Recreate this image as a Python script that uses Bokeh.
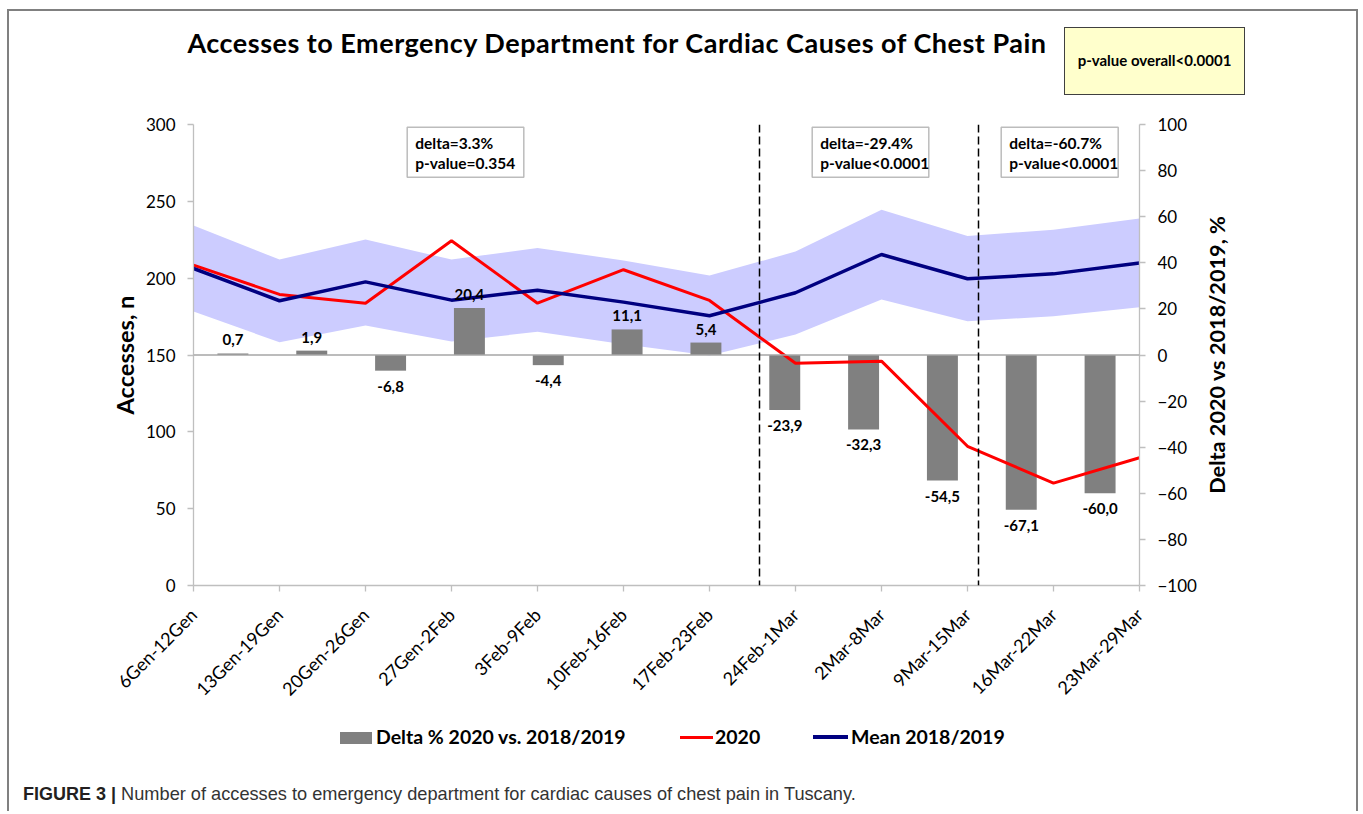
import math
import html
from bokeh.plotting import figure
from bokeh.models import (Range1d, LinearAxis, FixedTicker, Span, Label, LabelSet,
                          ColumnDataSource, BoxAnnotation, Div)
from bokeh.layouts import column, row
from bokeh.core.properties import value
from bokeh.embed import file_html
from bokeh.resources import INLINE

# ---------------- data ----------------
weeks = ["6Gen-12Gen", "13Gen-19Gen", "20Gen-26Gen", "27Gen-2Feb", "3Feb-9Feb",
         "10Feb-16Feb", "17Feb-23Feb", "24Feb-1Mar", "2Mar-8Mar", "9Mar-15Mar",
         "16Mar-22Mar", "23Mar-29Mar"]
delta_pct = [0.7, 1.9, -6.8, 20.4, -4.4, 11.1, 5.4, -23.9, -32.3, -54.5, -67.1, -60.0]
acc_2020 = [208.5, 189.4, 183.7, 224.3, 183.7, 205.5, 185.5, 144.6, 146.0, 90.6, 66.6, 83.1]
mean_1819 = [206.3, 185.3, 197.6, 185.7, 192.2, 184.4, 175.5, 190.5, 215.4, 199.6, 202.8, 209.8]
band_upper = [234.3, 212.1, 225.2, 212.1, 219.7, 211.5, 201.7, 217.3, 244.5, 227.5, 231.5, 238.8]
band_lower = [178.3, 158.3, 169.2, 158.8, 165.1, 157.0, 149.7, 163.3, 186.1, 172.0, 175.2, 181.1]
left_ticks = [0, 50, 100, 150, 200, 250, 300]
right_ticks = [-100, -80, -60, -40, -20, 0, 20, 40, 60, 80, 100]
period_boxes = [("delta=3.3%", "p-value=0.354"),
                ("delta=-29.4%", "p-value<0.0001"),
                ("delta=-60.7%", "p-value<0.0001")]
series_names = ["Delta % 2020 vs. 2018/2019", "2020", "Mean 2018/2019"]
left_title = "Accesses, n"
right_title = "Delta 2020 vs 2018/2019, %"
overall_text = "p-value overall<0.0001"
title_text = "Accesses to Emergency Department for Cardiac Causes of Chest Pain"
caption_bold = "FIGURE 3 |"
caption_text = "Number of accesses to emergency department for cardiac causes of chest pain in Tuscany."

n = len(weeks)
xs = list(range(n))
bar_x = [(i + 0.5) * (n - 1) / n for i in range(n)]
labels = [f"{v:.1f}".replace(".", ",") for v in delta_pct]

BAR_C, RED_C, NAVY_C = "#808080", "#FF0000", "#000080"

# ---------------- geometry (content coordinates) ----------------
OX, OY = 9, 11                      # content origin inside the outer frame
CW = 1347                           # content width
FIG_W = 1202 - OX                   # figure width (right title lives in a side div)
FL, FR, FT, FB = 193 - OX, 1139 - OX, 124 - OY, 585 - OY   # plot frame
TOP_H = 89
FIG_H = 700 - TOP_H
BOT_H = 100

def DX(cx):
    return (cx - FL) * (n - 1) / (FR - FL)

def DY(cy):
    return (FB - cy) * 300 / (FB - FT)

p = figure(width=FIG_W, height=FIG_H, output_backend="svg", toolbar_location=None,
           x_range=Range1d(0, n - 1), y_range=Range1d(0, 300),
           min_border_left=FL, min_border_right=FIG_W - FR,
           min_border_top=FT - TOP_H, min_border_bottom=TOP_H + FIG_H - FB, margin=0)
p.extra_y_ranges = {"delta": Range1d(-100, 100)}
p.xgrid.visible = False
p.ygrid.visible = False
p.outline_line_color = None
p.background_fill_color = "white"
p.border_fill_color = "white"

AXC = "#BFBFBF"

p.yaxis.ticker = FixedTicker(ticks=left_ticks)
p.yaxis.axis_label = left_title
p.xaxis.ticker = FixedTicker(ticks=xs)
p.xaxis.major_label_overrides = {i: w for i, w in enumerate(weeks)}
p.xaxis.major_label_orientation = math.pi / 4

ry = LinearAxis(y_range_name="delta", ticker=FixedTicker(ticks=right_ticks))
p.add_layout(ry, "right")

for ax in [p.xaxis[0], p.yaxis[0], ry]:
    ax.axis_line_color = AXC
    ax.axis_line_width = 1.3
    ax.major_tick_line_color = AXC
    ax.major_tick_line_width = 1.3
    ax.minor_tick_line_color = None
    ax.major_tick_in = 0
    ax.major_tick_out = 6
    ax.major_label_text_font = "Lato"
    ax.major_label_text_color = "#000000"
    ax.major_label_text_font_size = "17px"
    ax.major_label_standoff = 12
    ax.axis_label_text_font = "Lato"
    ax.axis_label_text_font_style = "bold"
    ax.axis_label_text_font_size = "23.5px"
    ax.axis_label_text_color = "#000000"
p.yaxis.axis_label_standoff = 4
p.xaxis.major_label_text_font_size = "18px"
p.xaxis.major_label_standoff = 20

# band
p.varea(x=xs, y1=band_lower, y2=band_upper, color="#CCCCFF")

# zero line of secondary axis
p.add_layout(Span(location=0, dimension="width", y_range_name="delta",
                  line_color="#A6A6A6", line_width=1.3))

# bars
p.vbar(x=bar_x, top=delta_pct, bottom=0, width=0.36, y_range_name="delta",
       fill_color=BAR_C, line_color=None)

# lines
p.line(xs, acc_2020, line_color=RED_C, line_width=3)
p.line(xs, mean_1819, line_color=NAVY_C, line_width=3.5)

# bar labels
pos = [i for i in range(n) if delta_pct[i] >= 0]
neg = [i for i in range(n) if delta_pct[i] < 0]
src_pos = ColumnDataSource(dict(x=[bar_x[i] for i in pos], y=[delta_pct[i] for i in pos],
                                t=[labels[i] for i in pos]))
src_neg = ColumnDataSource(dict(x=[bar_x[i] for i in neg], y=[delta_pct[i] for i in neg],
                                t=[labels[i] for i in neg]))
for src, base, off in [(src_pos, "bottom", 8), (src_neg, "top", -10)]:
    p.add_layout(LabelSet(x="x", y="y", text="t", source=src, y_range_name="delta",
                          text_align="center", text_baseline=value(base), y_offset=off,
                          text_font=value("Lato"), text_font_style="bold",
                          text_font_size="15px", text_color="#000000"))

# dashed period separators
for px in [759, 978]:
    p.add_layout(Span(location=DX(px - OX), dimension="height", line_color="#000000",
                      line_width=1.5, line_dash="8 4"))

# period boxes (inside the plot frame)
box_lr = [(406.7, 523.3), (811.7, 928.3), (1000.7, 1117.7)]
for (l, r), (t1, t2) in zip(box_lr, period_boxes):
    p.add_layout(BoxAnnotation(left=DX(l - OX), right=DX(r - OX),
                               top=DY(126.7 - OY), bottom=DY(176.7 - OY),
                               fill_color="white", fill_alpha=1, line_color="#222222",
                               line_width=1.5))
    for ty, tt in [(142, t1), (162, t2)]:
        p.add_layout(Label(x=DX(l + 8 - OX), y=DY(ty - OY), text=tt, text_align="left",
                           text_baseline="middle", text_font="Lato",
                           text_font_style="bold", text_font_size="15.5px",
                           text_color="#000000"))

# ---------------- right-axis title (side div) ----------------
RD_W = CW - FIG_W
rcx = 1217 - (OX + FIG_W)
rcy = 355 - (OY + TOP_H)
right_html = (
    f'<div style="position:relative;width:{RD_W}px;height:{FIG_H}px;">'
    f'<div style="position:absolute;left:{rcx - 200}px;top:{rcy - 14}px;width:400px;height:28px;'
    'line-height:28px;text-align:center;transform:rotate(-90deg);transform-origin:50% 50%;'
    'font-family:Lato;font-weight:bold;font-size:21.7px;color:#000;white-space:nowrap;">'
    f'{html.escape(right_title)}</div></div>')
right = Div(text=right_html, width=RD_W, height=FIG_H, margin=0)

# ---------------- header (title + overall p-value box) ----------------
top_html = (
    f'<div style="position:relative;width:{CW}px;height:{TOP_H}px;">'
    f'<div style="position:absolute;left:{617 - OX - 550}px;top:{18}px;width:1100px;'
    'text-align:center;font-family:Lato;font-weight:bold;font-size:27px;line-height:27px;'
    f'letter-spacing:0.5px;color:#000;white-space:nowrap;">{html.escape(title_text)}</div>'
    f'<div style="position:absolute;left:{1064 - OX}px;top:{27 - OY}px;width:181px;height:68px;'
    'background:#FFFFCC;border:1.5px solid #404040;display:flex;align-items:center;'
    'justify-content:center;font-family:Lato;font-weight:bold;font-size:15px;color:#000;'
    f'white-space:nowrap;">{html.escape(overall_text)}</div>'
    '</div>')
top = Div(text=top_html, width=CW, height=TOP_H, margin=0)

# ---------------- footer (legend + caption) ----------------
B0 = OY + TOP_H + FIG_H          # page y of footer top
def item_text(x, t):
    return (f'<div style="position:absolute;left:{x - OX}px;top:{737 - B0 - 10}px;'
            'font-family:Lato;font-weight:bold;font-size:19.5px;line-height:20px;color:#000;'
            f'white-space:nowrap;">{html.escape(t)}</div>')
bot_html = (
    f'<div style="position:relative;width:{CW}px;height:{BOT_H}px;">'
    f'<div style="position:absolute;left:{340 - OX}px;top:{732 - B0}px;width:32px;height:12px;'
    f'background:{BAR_C};"></div>'
    + item_text(376, series_names[0]) +
    f'<div style="position:absolute;left:{680 - OX}px;top:{735.5 - B0}px;width:33px;height:3px;'
    f'background:{RED_C};"></div>'
    + item_text(715, series_names[1]) +
    f'<div style="position:absolute;left:{813 - OX}px;top:{735.3 - B0}px;width:35px;height:3.5px;'
    f'background:{NAVY_C};"></div>'
    + item_text(851, series_names[2]) +
    f'<div style="position:absolute;left:{23 - OX}px;top:{800 - B0 - 15}px;'
    "font-family:'Liberation Sans';font-size:18.2px;line-height:18px;color:#333333;"
    f'white-space:nowrap;"><b style="color:#231F20;font-size:18px;">{html.escape(caption_bold)}</b> '
    f'{html.escape(caption_text)}</div>'
    '</div>')
bot = Div(text=bot_html, width=CW, height=BOT_H, margin=0)

root = column(top, row(p, right, spacing=0), bot, spacing=0,
              styles={"border-top": "2px solid #808080", "border-left": "2px solid #808080",
                      "border-right": "2px solid #808080", "margin-left": "7px",
                      "margin-top": "9px"})

open("out.html", "w").write(file_html(root, INLINE))
